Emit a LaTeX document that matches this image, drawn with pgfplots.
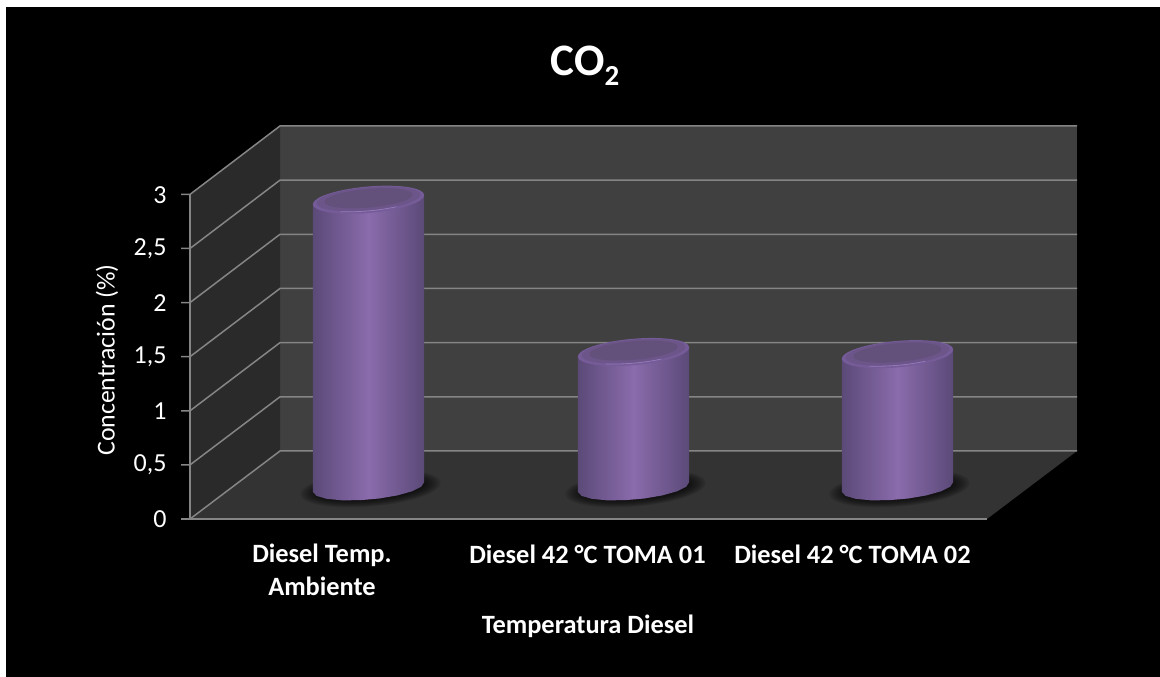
\documentclass[border=0pt]{standalone}
\usepackage{pgfplots}
\pgfplotsset{compat=1.18}
\usepackage{pgfplotstable}
\usepackage{fontspec}
\setmainfont{Carlito}

\definecolor{wallback}{HTML}{404040}
\definecolor{wallside}{HTML}{2A2A2A}
\definecolor{floorc}{HTML}{333333}
\definecolor{gridc}{HTML}{858585}
\definecolor{cylmid}{HTML}{8A6BAC}
\definecolor{cyledge}{HTML}{5B4A78}
\definecolor{caprim}{HTML}{755C98}
\definecolor{capmid}{HTML}{6B5589}
\definecolor{capface}{HTML}{63507B}
\definecolor{caplight}{HTML}{9478B8}

% Concentration of each sample and the centre of its cylinder on the pixel-scale x axis
\pgfplotstableread{
x     v
368.5 2.66
633.5 1.25
897.5 1.23
}\cyldata

% Outline of a cylinder relative to its base centre: dx and dy in pixels, t = 1 on the top end
\pgfplotstableread{
dx     dy     t
-55.7  -4.87  0
-51.95 -8.87  0
-41.95 -11.80 0
-26.9  -13.31 0
-8.6   -13.21 0
10.77  -11.51 0
28.8   -8.43  0
43.4   -4.34  0
52.7   0.29   0
55.7   4.87   0
55.7   4.87   1
-55.7  -4.87  1
}\cyloutline

\newcommand{\cylbody}[2]{%
  \addplot[draw=none,left color=cyledge,right color=cyledge,middle color=cylmid]
    table[x expr=\thisrow{dx}+#1, y expr=\thisrow{dy}/108+\thisrow{t}*#2] {\cyloutline} -- cycle;
}

% Soft contact shadow under a cylinder
\pgfdeclareplotmark{cylshadow}{%
  \pgfsetfillcolor{black}%
  \pgfsetfillopacity{0.11}%
  \foreach \a/\b/\c/\d in {70.2/6.1/-1.6/17.9, 68.0/5.9/-1.5/17.0, 65.8/5.7/-1.5/16.1, 63.6/5.5/-1.4/15.2,
                           61.4/5.4/-1.3/14.3, 59.2/5.2/-1.3/13.4, 57.0/5.0/-1.2/12.5, 54.8/4.8/-1.1/11.6}{%
    \pgfpathellipse{\pgfpoint{2pt}{-1.5pt}}{\pgfpoint{\a pt}{\b pt}}{\pgfpoint{\c pt}{\d pt}}%
    \pgfusepathqfill
  }%
}
% Bevelled top end of a cylinder
\pgfdeclareplotmark{cyltop}{%
  \pgfsetfillcolor{caprim}%
  \pgfpathellipse{\pgfpointorigin}{\pgfpoint{55.7pt}{4.87pt}}{\pgfpoint{-1.15pt}{13.15pt}}%
  \pgfusepathqfill
  \pgfsetfillcolor{capmid}%
  \pgfpathellipse{\pgfpoint{0pt}{0.8pt}}{\pgfpoint{52pt}{4.5pt}}{\pgfpoint{-1.0pt}{11.6pt}}%
  \pgfusepathqfill
  \pgfsetfillcolor{capface}%
  \pgfpathellipse{\pgfpoint{0pt}{1.5pt}}{\pgfpoint{44pt}{3.8pt}}{\pgfpoint{-0.8pt}{9.2pt}}%
  \pgfusepathqfill
  \pgfsetstrokecolor{caplight}%
  \pgfsetlinewidth{0.8pt}%
  \pgfpathmoveto{\pgfpoint{-28pt}{-12pt}}%
  \pgfpathcurveto{\pgfpoint{-10pt}{-12.5pt}}{\pgfpoint{10pt}{-11pt}}{\pgfpoint{28pt}{-7pt}}%
  \pgfusepathqstroke
}

\begin{document}
\begin{tikzpicture}
% Frame, 3-D walls, grid and all text in picture pixels; y counts concentration units at the front edge
\begin{axis}[
  at={(0,0)}, anchor=south west,
  scale only axis, width=1160pt, height=677pt,
  xmin=0, xmax=1160,
  ymin=-1.46296, ymax=4.80556,
  clip=false, hide axis,
]
  % coordinates used below: Y(p) = (519-p)/108 for a pixel row p
  \fill[white] (axis cs:0,-1.46296) rectangle (axis cs:1160,4.80556);
  \fill[black] (axis cs:6,-1.46296) rectangle (axis cs:1160,{512/108});
  % back wall
  \fill[wallback] (axis cs:280,{68/108}) rectangle (axis cs:1077,{393/108});
  % left wall
  \fill[wallside] (axis cs:190,0) -- (axis cs:280,{68/108}) -- (axis cs:280,{393/108}) -- (axis cs:190,3) -- cycle;
  % floor
  \fill[floorc] (axis cs:190,0) -- (axis cs:987,0) -- (axis cs:1077,{68/108}) -- (axis cs:280,{68/108}) -- cycle;
  % grid lines across the left and back walls
  \foreach \k in {0,...,6}{
    \pgfmathsetmacro{\fy}{\k*54.1/108}
    \pgfmathsetmacro{\by}{(68+\k*54.17)/108}
    \edef\tmp{\noexpand\draw[gridc,line width=1.5pt]
      (axis cs:181,\fy) -- (axis cs:190,\fy) -- (axis cs:280,\by) -- (axis cs:1077,\by);}
    \tmp
  }
  \draw[gridc,line width=1.5pt] (axis cs:190,0) -- (axis cs:190,3);
  \draw[gridc,line width=1.7pt] (axis cs:181,0) -- (axis cs:987,0);

  % texts
  \node[text=white,font=\fontsize{45}{45}\selectfont\bfseries,anchor=center]
    at (axis cs:585,{(519-66)/108}) {CO\raisebox{-10pt}{\fontsize{29}{29}\selectfont 2}};
  \node[text=white,font=\fontsize{25.8}{25.8}\selectfont,rotate=90,anchor=center]
    at (axis cs:107,{(519-360)/108}) {Concentración (\%)};
  \node[text=white,font=\fontsize{26.4}{33}\selectfont\bfseries,anchor=center,align=center]
    at (axis cs:322,{(519-570)/108}) {Diesel Temp.\\Ambiente};
  \node[text=white,font=\fontsize{26.4}{26.4}\selectfont\bfseries,anchor=center]
    at (axis cs:587.5,{(519-554)/108}) {Diesel 42 °C TOMA 01};
  \node[text=white,font=\fontsize{26.4}{26.4}\selectfont\bfseries,anchor=center]
    at (axis cs:852.5,{(519-554)/108}) {Diesel 42 °C TOMA 02};
  \node[text=white,font=\fontsize{26.4}{26.4}\selectfont\bfseries,anchor=center]
    at (axis cs:588,{(519-626)/108}) {Temperatura Diesel};
\end{axis}
% Concentration scale on the front edge of the left wall
\begin{axis}[
  at={(0,0)}, anchor=south west,
  scale only axis, width=1160pt, height=677pt,
  xmin=0, xmax=1160,
  ymin=-1.46296, ymax=4.80556,
  clip=false, axis line style={draw=none},
  /pgf/number format/assume math mode=true,
  xtick=\empty,
  ytick={0,0.5,1,1.5,2,2.5,3},
  yticklabels={0,{0,5},1,{1,5},2,{2,5},3},
  tick style={draw=none},
  y tick label style={font=\fontsize{26}{26}\selectfont,text=white,xshift=170pt},
]
\end{axis}
% Same frame with y = 0 lifted to the centre of the floor: shadows first
\begin{axis}[
  at={(0,0)}, anchor=south west,
  scale only axis, width=1160pt, height=677pt,
  xmin=0, xmax=1160,
  ymin=-1.75926, ymax=4.50926,
  clip=false, hide axis,
]
  \addplot[only marks, mark=cylshadow] table[x=x, y expr=0] {\cyldata};
\end{axis}
% The cylinders themselves, standing on the floor centre
\begin{axis}[
  at={(0,0)}, anchor=south west,
  scale only axis, width=1160pt, height=677pt,
  xmin=0, xmax=1160,
  ymin=-1.75926, ymax=4.50926,
  clip=false, hide axis,
]
  \cylbody{368.5}{2.66}
  \cylbody{633.5}{1.25}
  \cylbody{897.5}{1.23}
  \addplot[only marks, mark=cyltop] table[x=x, y=v] {\cyldata};
\end{axis}
\end{tikzpicture}
\end{document}
